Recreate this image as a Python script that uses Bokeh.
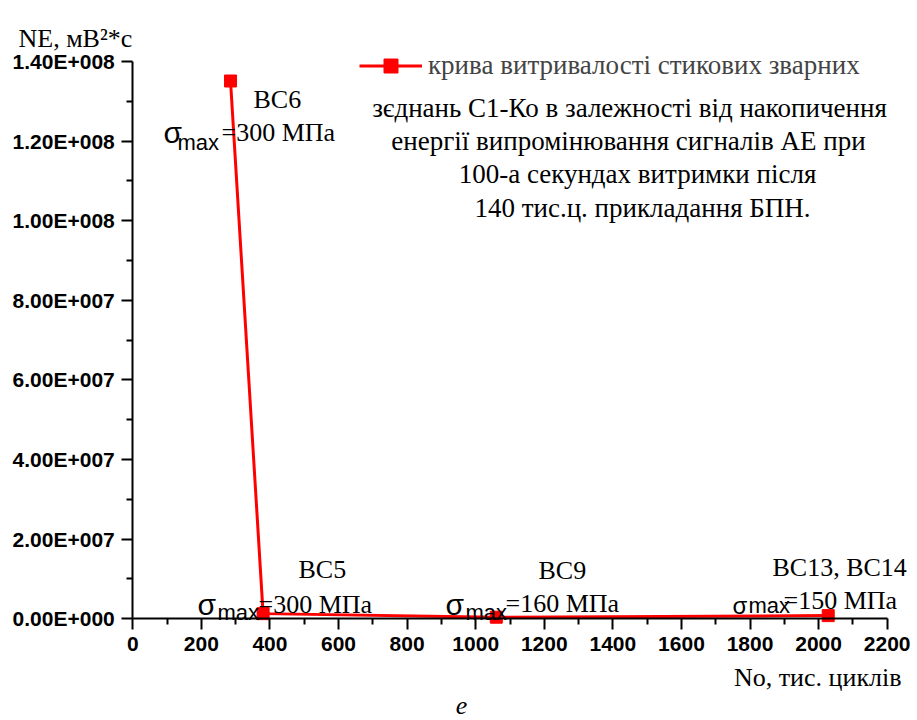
from bokeh.plotting import figure
from bokeh.models import (Range1d, FixedTicker, Label, Legend, LegendItem)
from bokeh.embed import file_html
from bokeh.resources import INLINE

# ---------------- data ----------------
specimens = ["ВС6", "ВС5", "ВС9", "ВС13, ВС14"]
cycles = [285, 380, 1060, 2028]              # No, тис. циклів
energy = [1.351e8, 1.3e6, 4.0e5, 8.0e5]      # NE, мВ^2*с
stress_labels = ["=300 МПа", "=300 МПа", "=160 МПа", "=150 МПа"]

x_ticks = [0, 200, 400, 600, 800, 1000, 1200, 1400, 1600, 1800, 2000, 2200]
x_minor = [100, 300, 500, 700, 900, 1100, 1300, 1500, 1700, 1900, 2100]
y_ticks = [0, 2e7, 4e7, 6e7, 8e7, 1e8, 1.2e8, 1.4e8]
y_minor = [1e7, 3e7, 5e7, 7e7, 9e7, 1.1e8, 1.3e8]
y_tick_labels = ["0.00E+000", "2.00E+007", "4.00E+007", "6.00E+007",
                 "8.00E+007", "1.00E+008", "1.20E+008", "1.40E+008"]

legend_lines = ["крива витривалості стикових зварних",
                "зєднань С1-Ко в залежності від накопичення",
                "енергії випромінювання сигналів АЕ при",
                "100-а секундах витримки після",
                "140 тис.ц. прикладання БПН."]

x_title = "No, тис. циклів"
y_title = "NE, мВ²*с"
caption = "e"

# ---------------- layout ----------------
X_MAX, Y_MAX = 2200, 1.4e8
W, H = 915, 719
PX_X0, PX_X1 = 132.3, 886.7     # canvas px of x = 0 and x = X_MAX
PX_Y0, PX_Y1 = 618.3, 61.0      # canvas px of y = 0 and y = Y_MAX
SX = X_MAX / (PX_X1 - PX_X0)
SY = Y_MAX / (PX_Y0 - PX_Y1)

def dx(px):
    return (px - PX_X0) * SX

def dy(py):
    return (PX_Y0 - py) * SY

SERIF = "Liberation Serif"
SANS = "Liberation Sans"
RED = "#ff0000"

p = figure(width=W, height=H, output_backend="svg", toolbar_location=None,
           x_range=Range1d(dx(0), dx(W)), y_range=Range1d(dy(H), dy(0)),
           min_border=0)
p.outline_line_color = None
p.xgrid.visible = False
p.ygrid.visible = False
p.background_fill_color = "white"

for ax in (p.xaxis[0], p.yaxis[0]):
    ax.fixed_location = 0
    ax.axis_line_width = 2
    ax.major_tick_line_width = 2
    ax.minor_tick_line_width = 2
    ax.major_tick_in = 0
    ax.minor_tick_in = 0
    ax.major_tick_out = 11
    ax.minor_tick_out = 6
    ax.major_label_text_font = SANS
    ax.major_label_text_font_style = "bold"
    ax.major_label_text_font_size = "21px"
    ax.major_label_text_color = "black"
    ax.major_label_standoff = 7

p.xaxis.bounds = (0, X_MAX)
p.yaxis.bounds = (0, Y_MAX)
p.xaxis.ticker = FixedTicker(ticks=x_ticks, minor_ticks=x_minor)
p.yaxis.ticker = FixedTicker(ticks=y_ticks, minor_ticks=y_minor)
p.yaxis.major_label_overrides = {t: s for t, s in zip(y_ticks, y_tick_labels)}

line_r = p.line(cycles, energy, line_color=RED, line_width=3)
pts_r = p.scatter(cycles, energy, marker="square", size=12,
                  fill_color=RED, line_color=RED)

legend = Legend(items=[LegendItem(label=legend_lines[0], renderers=[line_r, pts_r])],
                location=(359, H - 82.5), padding=0, margin=0, spacing=0,
                glyph_width=63, glyph_height=35, label_standoff=6,
                label_text_font=SERIF, label_text_font_size="27px",
                border_line_alpha=0, background_fill_alpha=0)
p.add_layout(legend, "center")

def txt(px, py, text, font=SERIF, size="26px", align="left", style="normal"):
    p.add_layout(Label(x=dx(px), y=dy(py), text=text, text_font=font,
                       text_font_size=size, text_align=align,
                       text_baseline="alphabetic", text_font_style=style,
                       text_color="black"))

# legend continuation lines
for (cx, by), t in zip([(629, 107), (628, 140), (637, 173), (642, 207)], legend_lines[1:]):
    txt(cx, by, t, size="27px", align="center")

# specimen labels and stress annotations
spec_pos = [(253, 99), (298, 569), (538, 570), (772, 567)]
sigma_pos = [(163, 132, 30), (197, 604, 30), (445, 604, 30), (732, 605, 24)]
max_pos = [(177, 142), (217, 612), (465, 612), (748, 605)]
stress_pos = [(221, 132), (258, 604), (505, 603), (783, 600)]
for i in range(len(specimens)):
    txt(*spec_pos[i], specimens[i])
    sx, sy, ss = sigma_pos[i]
    txt(sx, sy, "σ", font=SANS, size=f"{ss}px")
    txt(*max_pos[i], "max", font=SANS, size="22px")
    txt(*stress_pos[i], stress_labels[i])

# axis titles and caption
txt(18, 38, y_title)
txt(901, 677, x_title, align="right")
txt(461, 705, caption, align="center", style="italic")

open("out.html", "w").write(file_html(p, INLINE))
